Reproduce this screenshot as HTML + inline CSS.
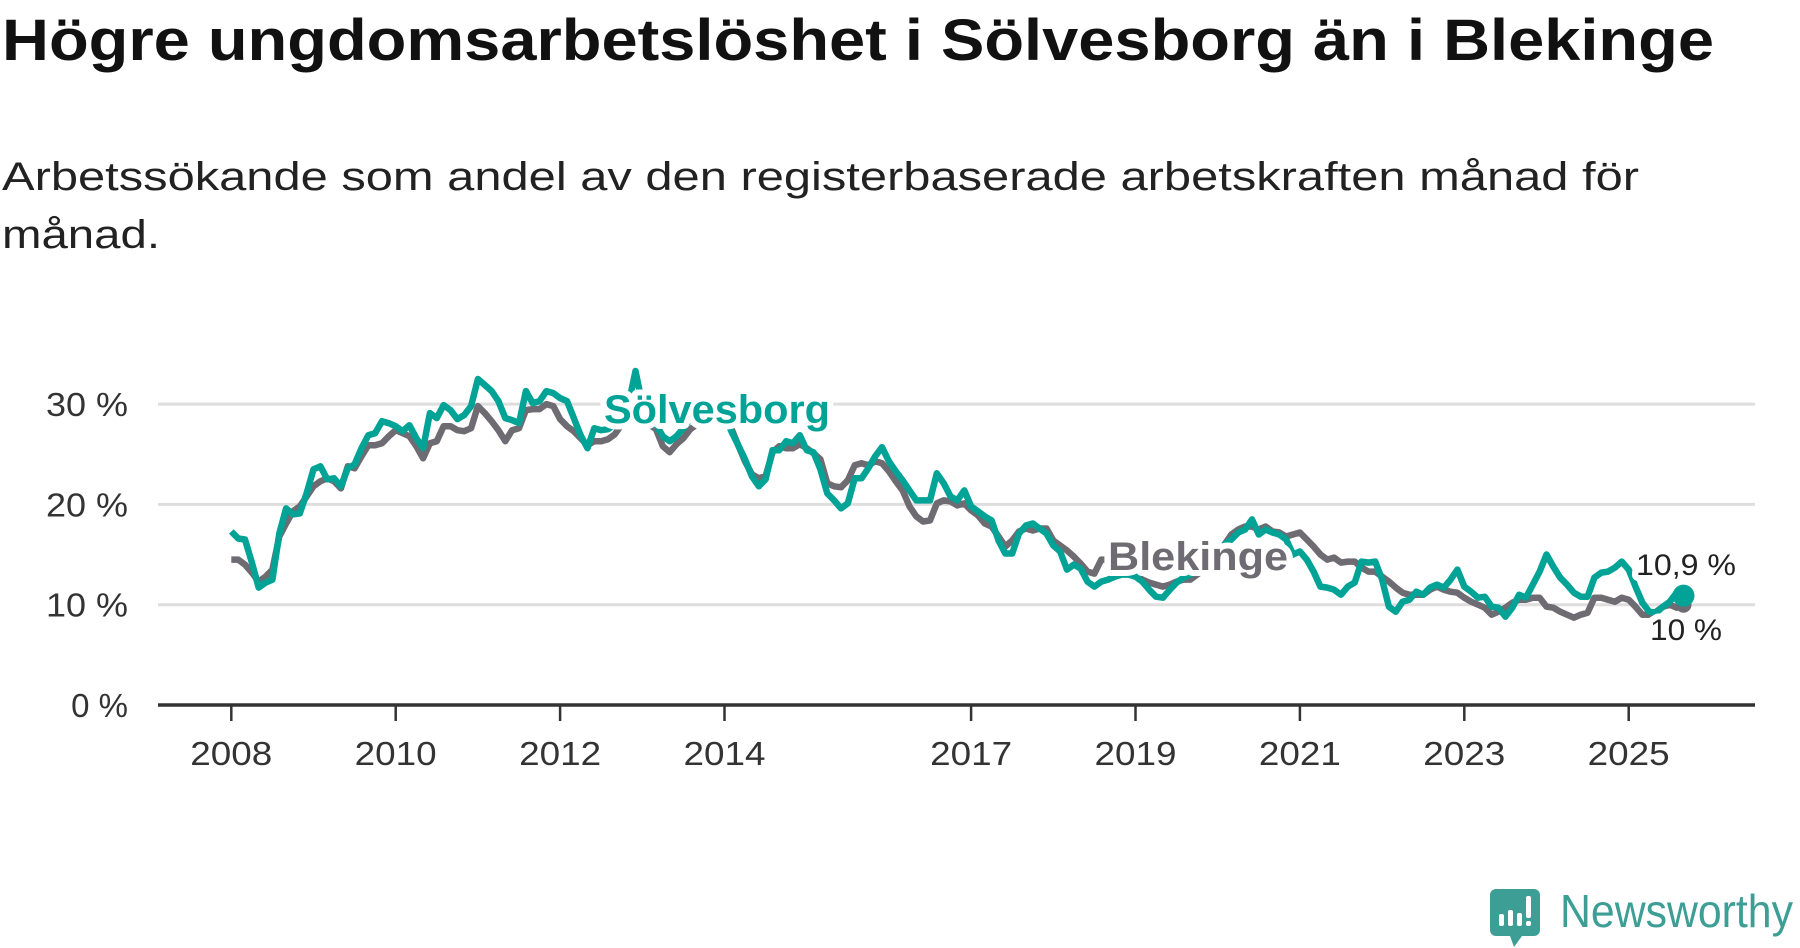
<!DOCTYPE html>
<html><head><meta charset="utf-8"><style>
html,body{margin:0;padding:0;background:#fff;}
svg{display:block;font-family:"Liberation Sans","DejaVu Sans",sans-serif;}
</style></head><body>
<svg id="chart" width="1800" height="948" viewBox="0 0 1800 948" xmlns="http://www.w3.org/2000/svg">
<text x="2" y="60" font-size="58" font-weight="bold" fill="#111" textLength="1712" lengthAdjust="spacingAndGlyphs">Högre ungdomsarbetslöshet i Sölvesborg än i Blekinge</text>
<text x="2" y="190" font-size="40" fill="#222" textLength="1637" lengthAdjust="spacingAndGlyphs">Arbetssökande som andel av den registerbaserade arbetskraften månad för</text>
<text x="2" y="248" font-size="40" fill="#222" textLength="158" lengthAdjust="spacingAndGlyphs">månad.</text>
<g id="grid"></g>
<g id="yaxis"></g>
<g id="xaxis"></g>
<g id="lines"></g>
<g id="labels"></g>
<g>
<path d="M1496 889 h38 a6 6 0 0 1 6 6 v35 a6 6 0 0 1 -6 6 h-12 l-8 11 l-4 -11 h-14 a6 6 0 0 1 -6 -6 v-35 a6 6 0 0 1 6 -6z" fill="#3d9e95"/>
<rect x="1499" y="914" width="5" height="12" rx="2" fill="#fff"/>
<rect x="1508" y="910" width="5" height="16" rx="2" fill="#fff"/>
<rect x="1517" y="913" width="5" height="13" rx="2" fill="#fff"/>
<rect x="1526" y="896" width="5" height="22" rx="2" fill="#fff"/>
<rect x="1526" y="921" width="5" height="5" rx="2" fill="#fff"/>
<text x="1560" y="927" font-size="46" fill="#3d9e95" textLength="233" lengthAdjust="spacingAndGlyphs">Newsworthy</text>
</g>
</svg>
<script>
const yTicks = [0, 10, 20, 30];
const yTickLabels = ["0 %", "10 %", "20 %", "30 %"];
const xTickYears = [2008, 2010, 2012, 2014, 2017, 2019, 2021, 2023, 2025];
const startYear = 2008;
const solvesborg = [17.3,16.6,16.5,14.2,11.7,12.2,12.5,17.1,19.6,19.0,19.1,21.1,23.5,23.8,22.5,22.6,21.8,23.6,24.0,25.6,26.9,27.1,28.3,28.1,27.8,27.3,27.9,26.6,25.6,29.1,28.6,29.9,29.4,28.5,28.9,29.8,32.5,31.9,31.3,30.3,28.6,28.4,28.1,31.3,30.1,30.3,31.3,31.1,30.6,30.3,28.6,26.9,25.6,27.6,27.4,27.5,28.0,29.0,30.0,33.3,30.0,29.0,28.0,26.8,26.3,26.8,27.6,28.5,29.0,29.5,30.0,29.5,29.0,27.3,25.9,24.5,22.8,21.8,22.5,25.4,25.4,26.3,26.1,26.9,25.4,25.2,23.5,21.1,20.4,19.6,20.1,22.6,22.6,23.6,24.8,25.7,24.3,23.3,22.4,21.4,20.4,20.4,20.4,23.1,22.1,20.8,20.4,21.4,19.8,19.3,18.8,18.4,16.4,15.1,15.1,17.1,17.9,18.1,17.6,17.1,15.9,15.3,13.5,14.0,13.6,12.3,11.8,12.3,12.5,12.8,13.0,13.0,12.8,12.3,11.5,10.8,10.7,11.5,12.2,12.7,13.0,13.5,14.0,14.5,15.0,16.0,16.5,17.2,17.5,18.5,17.0,17.5,17.2,17.0,16.5,15.0,15.3,14.5,13.3,11.8,11.7,11.5,11.0,11.8,12.2,14.3,14.2,14.3,12.5,9.8,9.3,10.3,10.5,11.3,11.0,11.7,12.0,11.7,12.5,13.5,11.8,11.3,10.7,10.8,9.8,9.7,8.8,9.7,11.0,10.7,12.0,13.3,15.0,13.8,12.7,12.0,11.2,10.8,10.8,12.7,13.2,13.3,13.7,14.3,13.5,11.8,10.2,9.3,9.2,9.8,10.3,11.2,10.9];
const blekinge = [14.5,14.5,14.0,13.2,12.3,12.8,13.5,16.8,18.1,19.3,19.8,20.8,21.8,22.3,22.6,22.3,21.6,23.8,23.6,24.8,25.9,25.9,26.1,26.8,27.4,27.1,26.8,25.8,24.6,26.1,26.3,27.8,27.8,27.4,27.3,27.6,29.8,29.1,28.3,27.4,26.3,27.4,27.6,29.4,29.5,29.5,30.0,29.8,28.5,27.8,27.3,26.6,25.9,26.3,26.3,26.5,27.0,28.0,29.0,30.0,29.0,28.0,27.5,25.8,25.2,26.0,26.6,27.5,28.0,28.5,29.0,28.5,28.2,27.6,25.9,24.3,23.0,22.6,22.8,25.2,25.8,25.6,25.6,26.0,25.6,25.1,24.5,22.1,21.8,21.7,22.4,23.9,24.1,23.9,24.3,24.1,23.3,22.3,21.4,19.8,18.8,18.3,18.4,20.1,20.4,20.3,19.9,20.1,19.4,18.9,18.1,17.8,16.8,15.8,16.4,17.3,17.6,17.4,17.6,17.6,16.4,15.9,15.4,14.8,14.1,13.3,13.1,14.5,14.5,14.5,14.0,13.5,13.0,12.5,12.2,12.0,11.8,12.0,12.3,12.5,12.5,13.0,13.5,14.0,15.0,16.0,17.0,17.5,17.8,17.8,17.5,17.8,17.3,17.2,16.8,17.0,17.2,16.5,15.8,15.0,14.5,14.7,14.2,14.3,14.3,13.7,13.3,13.3,12.8,12.3,11.7,11.2,11.0,11.0,11.0,11.5,11.8,11.5,11.3,11.2,10.7,10.3,10.0,9.7,9.0,9.3,9.7,10.2,10.5,10.5,10.7,10.7,9.8,9.7,9.3,9.0,8.7,9.0,9.2,10.7,10.7,10.5,10.3,10.7,10.5,9.8,9.0,9.0,9.3,9.8,10.0,9.7,10.0];

const NS = "http://www.w3.org/2000/svg";
const X0 = 231.3, PX_PER_MONTH = 6.85, Y0 = 705, PX_PER_PCT = 10.03;
const PLOT_L = 158, PLOT_R = 1755;
function xScale(m){ return X0 + m * PX_PER_MONTH; }
function yScale(v){ return Y0 - v * PX_PER_PCT; }
function mk(tag, attrs, parent){ const e=document.createElementNS(NS,tag); for(const k in attrs) e.setAttribute(k, attrs[k]); parent.appendChild(e); return e; }

const grid=document.getElementById('grid'), yaxis=document.getElementById('yaxis'), xaxis=document.getElementById('xaxis');
yTicks.forEach((t,i)=>{
  if(t>0){
    const g=mk('line',{x1:PLOT_L,x2:PLOT_R,y1:yScale(t),y2:yScale(t),stroke:'#dedede','stroke-width':3},grid);
    
    
  }
  const lb=mk('text',{x:128,y:yScale(t)+12,'text-anchor':'end','font-size':33,fill:'#333'},yaxis);
  if(t>=10){ lb.setAttribute('textLength',82); lb.setAttribute('lengthAdjust','spacingAndGlyphs'); }
  lb.textContent=yTickLabels[i];
  
  
});
const ax=mk('line',{x1:PLOT_L,x2:PLOT_R,y1:Y0,y2:Y0,stroke:'#333','stroke-width':3.5},xaxis);


xTickYears.forEach(yr=>{
  const x=xScale((yr-startYear)*12);
  const tk=mk('line',{x1:x,x2:x,y1:Y0,y2:Y0+16,stroke:'#333','stroke-width':2.5},xaxis);
  
  
  const lb=mk('text',{x:x-41,y:765,'font-size':33,fill:'#333',textLength:82,lengthAdjust:'spacingAndGlyphs'},xaxis);
  lb.textContent=String(yr);
  
  
});

const lines=document.getElementById('lines');
function pathFor(arr){ return arr.map((v,i)=>(i?'L':'M')+xScale(i).toFixed(1)+' '+yScale(v).toFixed(1)).join(' '); }
const pb=mk('path',{d:pathFor(blekinge),fill:'none',stroke:'#6e6c72','stroke-width':6.5,'stroke-linejoin':'round'},lines);


const ps=mk('path',{d:pathFor(solvesborg),fill:'none',stroke:'#00a396','stroke-width':6.5,'stroke-linejoin':'round'},lines);


const lastI=solvesborg.length-1;
const dB=mk('circle',{cx:xScale(blekinge.length-1),cy:yScale(blekinge[blekinge.length-1]),r:8,fill:'#6e6c72'},lines);


const dS=mk('circle',{cx:xScale(lastI),cy:yScale(solvesborg[lastI]),r:11,fill:'#00a396'},lines);



const labels=document.getElementById('labels');
function halo(attrs,txt,name){
  const t=mk('text',Object.assign({stroke:'#fff','stroke-width':12,'paint-order':'stroke','stroke-linejoin':'round'},attrs),labels);
  t.textContent=txt;
  
  
}
halo({x:604,y:423,'font-size':40,'font-weight':'bold',fill:'#00a396',textLength:226,lengthAdjust:'spacingAndGlyphs'},'Sölvesborg','label-solvesborg');
halo({x:1108,y:570,'font-size':40,'font-weight':'bold',fill:'#6e6c72',textLength:180,lengthAdjust:'spacingAndGlyphs'},'Blekinge','label-blekinge');
halo({x:1636,y:575,'font-size':30,fill:'#222',textLength:100,lengthAdjust:'spacingAndGlyphs'},'10,9 %','value-label-solvesborg');
halo({x:1650,y:640,'font-size':30,fill:'#222',textLength:72,lengthAdjust:'spacingAndGlyphs'},'10 %','value-label-blekinge');
</script>
</body></html>
